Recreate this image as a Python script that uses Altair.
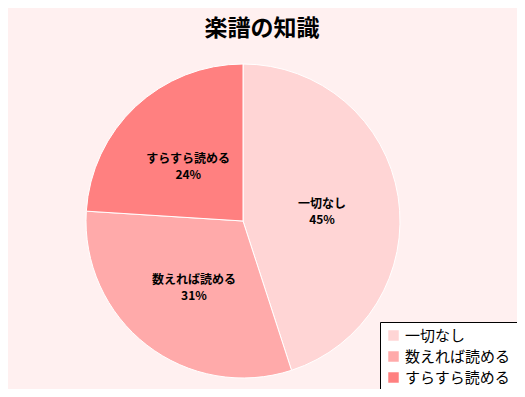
import altair as alt
import pandas as pd

categories = ["一切なし", "数えれば読める", "すらすら読める"]
percents = [45, 31, 24]
colors = ["#ffd5d5", "#ffaaaa", "#ff8080"]
title_text = "楽譜の知識"

df = pd.DataFrame({"category": categories, "value": percents, "order": [0, 1, 2]})
df["pct"] = [f"{v}%" for v in percents]

FONT = "Noto Sans CJK JP"
CX, CY, R = 235, 213, 157

base = alt.Chart(df).encode(
    theta=alt.Theta("value:Q", stack=True),
    order=alt.Order("order:Q"),
)

pie = base.mark_arc(radius=R, stroke="white", strokeWidth=1).encode(
    x=alt.value(CX),
    y=alt.value(CY),
    color=alt.Color(
        "category:N",
        scale=alt.Scale(domain=categories, range=colors),
        sort=categories,
        legend=alt.Legend(
            title=None,
            orient="none",
            legendX=372,
            legendY=314,
            fillColor="white",
            strokeColor="black",
            padding=6,
            symbolType="square",
            symbolSize=110,
            symbolStrokeWidth=0,
            labelFont=FONT,
            labelFontSize=15,
            labelColor="black",
            rowPadding=5,
            labelLimit=200,
        ),
    ),
)

name_lbl = base.mark_text(
    radius=80, font=FONT, fontSize=12, fontWeight="bold",
    color="black", align="center", baseline="middle", dy=-4,
).encode(x=alt.value(CX), y=alt.value(CY), text="category:N")

pct_lbl = base.mark_text(
    radius=80, font=FONT, fontSize=12, fontWeight="bold",
    color="black", align="center", baseline="middle", dy=12,
).encode(x=alt.value(CX), y=alt.value(CY), text="pct:N")

title = alt.Chart(pd.DataFrame({"t": [title_text]})).mark_text(
    font=FONT, fontSize=23, fontWeight="bold", color="black", align="center", baseline="middle"
).encode(x=alt.value(254), y=alt.value(21), text="t:N")

chart = alt.layer(pie, name_lbl, pct_lbl, title).properties(
    width=509, height=381, background="#fff0f0",
    autosize=alt.AutoSizeParams(type="none"), padding=0,
).configure_view(stroke=None)

chart.save("out.html", embed_options={"renderer": "svg", "actions": False})
